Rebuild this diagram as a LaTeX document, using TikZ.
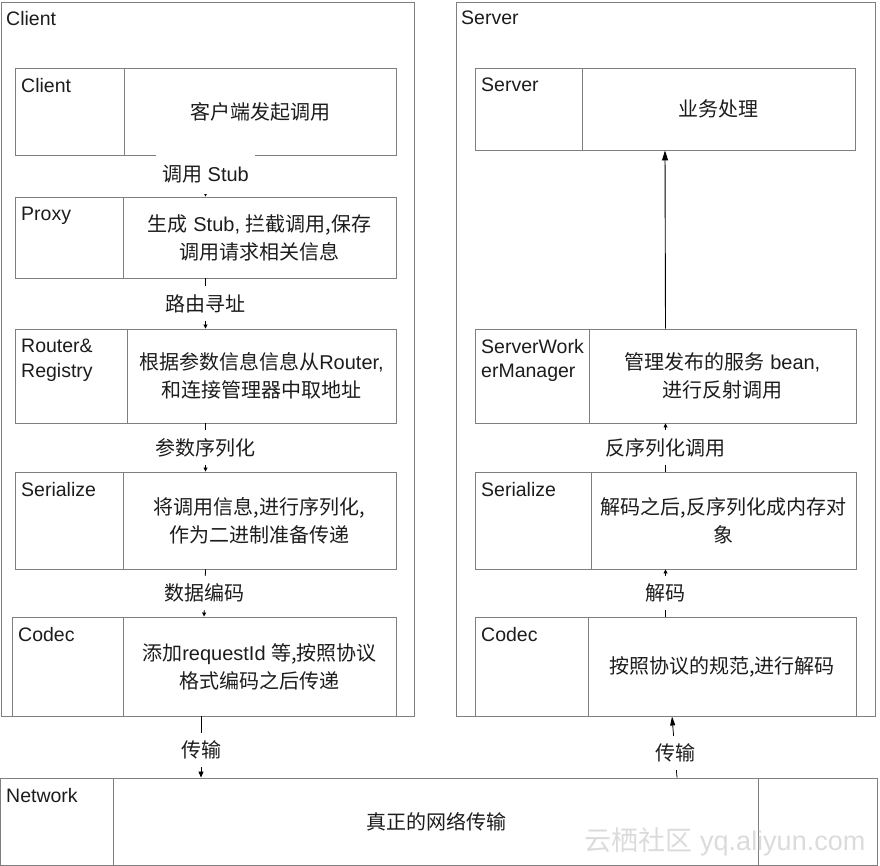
\documentclass[tikz,border=0pt]{standalone}
\usepackage{fontspec}
\setmainfont{Liberation Sans}
\newfontfamily\cjk{Noto Sans CJK SC}
\usetikzlibrary{arrows.meta,fit}
\newcommand\zh[1]{{\cjk #1}}
\definecolor{linegray}{HTML}{7F7F7F}
\definecolor{ink}{HTML}{1C1C1C}
% \rowbox{name}{x1}{y1}{x2}{y2}{xdiv}{label}{text}
\newcommand\rowbox[8]{%
  \node[box, fit={(#2,#3) (#4,#5)}] (#1) {};
  \draw[divider] (#6,#3) -- (#6,#5);
  \node[lbl] (#1-lbl) at (#2+6,#3+10) {#7};
  \node[body] (#1-txt) at ({(#6+#4)/2},{(#3+#5)/2}) {#8};
}
\begin{document}
\begin{tikzpicture}[x=1pt,y=-1pt,
  box/.style={draw=linegray, line width=0.9pt, inner sep=0pt},
  divider/.style={draw=linegray, line width=0.9pt},
  lbl/.style={anchor=north west, align=left, inner sep=0pt, text=ink, font=\fontsize{19.5}{24.5}\selectfont},
  body/.style={align=center, inner sep=0pt, text=ink, font=\fontsize{20}{28}\selectfont},
  conn/.style={draw=black, line width=0.8pt, -{Triangle[length=4pt,width=4pt]}},
  clab/.style={fill=white, inner xsep=4pt, inner ysep=8pt, text=ink, font=\fontsize{20}{24}\selectfont}]
\useasboundingbox (0,0) rectangle (880,866);

% outer containers
\node[box, fit={(1,2) (414,716)}] (client) {};
\node[lbl] (client-lbl) at (6,11) {Client};
\node[box, fit={(456,2) (875,716)}] (server) {};
\node[lbl] (server-lbl) at (461,11) {Server};

% client stack
\rowbox{ccl}{15}{68}{396}{155}{124}{Client}{\zh{客户端发起调用}}
\rowbox{cpx}{15}{197}{396}{278}{123}{Proxy}{\zh{生成} Stub, \zh{拦截调用,保存}\\\zh{调用请求相关信息}}
\rowbox{crt}{15}{329}{396}{423}{127}{Router\&\\Registry}{\zh{根据参数信息信息从}Router,\\\zh{和连接管理器中取地址}}
\rowbox{cser}{15}{472}{396}{569}{123}{Serialize}{\zh{将调用信息,进行序列化,}\\\zh{作为二进制准备传递}}
\rowbox{ccodec}{12}{617}{396}{716}{123}{Codec}{\zh{添加}requestId \zh{等,按照协议}\\\zh{格式编码之后传递}}

% server stack
\rowbox{srv}{475}{68}{855}{150}{582}{Server}{\zh{业务处理}}
\rowbox{ssw}{475}{329}{856}{423}{589}{ServerWork\\erManager}{\zh{管理发布的服务} bean,\\\zh{进行反射调用}}
\rowbox{sser}{475}{472}{856}{569}{591}{Serialize}{\zh{解码之后,反序列化成内存对}\\\zh{象}}
\rowbox{scodec}{475}{617}{856}{716}{588}{Codec}{\zh{按照协议的规范,进行解码}}

% network
\node[box, fit={(0.5,778) (877,865.5)}] (net) {};
\draw[divider] (113,778) -- (113,865.5);
\draw[divider] (758,778) -- (758,865.5);
\node[lbl] (net-lbl) at (6,788) {Network};
\node[body] (net-txt) at (436,822) {\zh{真正的网络传输}};

% helper coordinates for connector x positions
\coordinate (xc) at (201,0);
\coordinate (xs1) at (677,0);
\coordinate (xs2) at (672,0);

% client connectors
\draw[conn] (ccl.south) -- node[clab, pos=0.45, minimum height=40pt, inner xsep=6pt] {\zh{调用} Stub} (cpx.north);
\draw[conn] (cpx.south) -- node[clab] {\zh{路由寻址}} (crt.north);
\draw[conn] (crt.south) -- node[clab] {\zh{参数序列化}} (cser.north);
\draw[conn] (cser.south) -- node[clab] {\zh{数据编码}} (ccodec.north);
\draw[draw=black, line width=0.8pt, -{Triangle[length=6pt,width=5pt]}] (ccodec.south -| xc) -- node[clab, pos=0.55] {\zh{传输}} (net.north -| xc);

% server connectors
\draw[conn] (scodec.north) -- node[clab] {\zh{解码}} (sser.south);
\draw[conn] (sser.north) -- node[clab] {\zh{反序列化调用}} (ssw.south);
\draw[draw=black, line width=0.9pt, -{Triangle[length=10pt,width=6pt]}] (ssw.north) -- (srv.south);
\draw[draw=black, line width=0.8pt, -{Triangle[length=9pt,width=5pt]}] (net.north -| xs1) -- node[clab, pos=0.4] {\zh{传输}} (scodec.south -| xs2);

% watermark
\node[text=gray!28, inner sep=0pt, font=\fontsize{27}{30}\selectfont] (wm) at (725,842) {\zh{云栖社区} yq.aliyun.com};
\end{tikzpicture}
\end{document}
